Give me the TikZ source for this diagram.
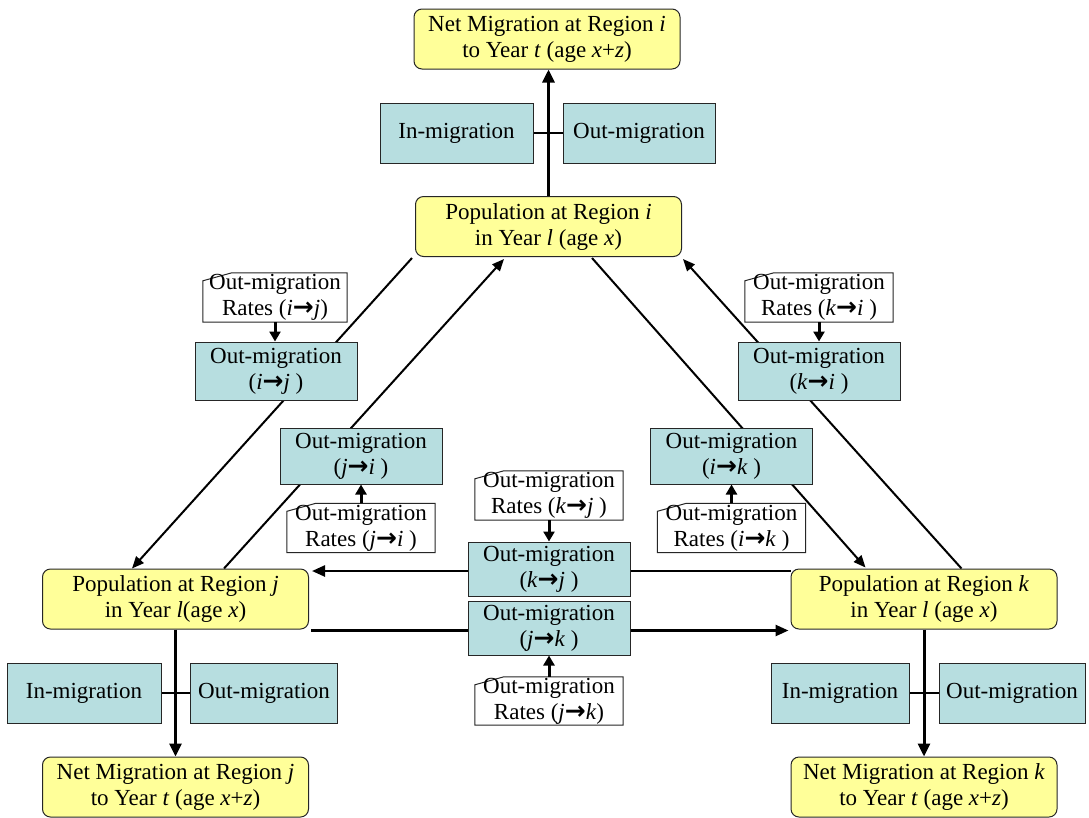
\documentclass[tikz,border=0pt]{standalone}
\usepackage{fontspec}
\setmainfont{Liberation Serif}
\newfontfamily\arrowfont{DejaVu Sans}
\usetikzlibrary{arrows.meta,calc,backgrounds}
\definecolor{popyel}{HTML}{FFFF99}
\definecolor{migteal}{HTML}{B7DEE0}
\newcommand{\rarr}{{\arrowfont\bfseries\fontsize{25}{26}\selectfont →}}
\newcommand{\mv}[1]{\textit{#1}}
\begin{document}
\begin{tikzpicture}[x=1pt,y=-1pt,
  every node/.style={font=\fontsize{23}{26}\selectfont, align=center, inner sep=0pt},
  popbox/.style={draw=black!85, line width=1pt, fill=popyel, rounded corners=8pt, minimum width=266pt, minimum height=60pt},
  migbox/.style={draw=black!85, line width=1pt, fill=migteal, minimum height=60pt},
  flowbox/.style={draw=black!85, line width=1pt, fill=migteal, minimum width=162pt, minimum height=56pt},
  ratebox/.style={minimum width=148pt, minimum height=49pt},
  rateline/.style={draw=black!85, line width=1pt, fill=white},
  conn/.style={line width=2pt, -{Triangle[length=12pt,width=10pt]}},
  vconn/.style={line width=3pt, -{Triangle[length=13pt,width=12pt]}},
  hconn/.style={line width=2.5pt, -{Triangle[length=13pt,width=11pt]}},
  rconn/.style={line width=3pt, -{Triangle[length=10pt,width=11pt]}},
  cross/.style={line width=1.5pt}
]
\begin{scope}[on background layer]
\path[use as bounding box, fill=white] (0,0) rectangle (1089,815);
\end{scope}

% main population / net boxes
\node[popbox] (neti) at (547,39) {Net Migration at Region \mv{i}\\to Year \mv{t} (age \mv{x}+\mv{z})};
\node[popbox] (popi) at (548.5,226.5) {Population at Region \mv{i}\\in Year \mv{l} (age \mv{x})};
\node[popbox] (popj) at (175.5,599) {Population at Region \mv{j}\\in Year \mv{l}(age \mv{x})};
\node[popbox] (popk) at (924,599) {Population at Region \mv{k}\\in Year \mv{l} (age \mv{x})};
\node[popbox] (netj) at (175.5,787) {Net Migration at Region \mv{j}\\to Year \mv{t} (age \mv{x}+\mv{z})};
\node[popbox] (netk) at (924,787) {Net Migration at Region \mv{k}\\to Year \mv{t} (age \mv{x}+\mv{z})};

% in/out migration boxes
\node[migbox, minimum width=153pt] (ini) at (456.5,133) {In-migration};
\node[migbox, minimum width=152pt] (outi) at (639,133) {Out-migration};
\node[migbox, minimum width=154pt] (inj) at (84,693) {In-migration};
\node[migbox, minimum width=147pt] (outj) at (264,693) {Out-migration};
\node[migbox, minimum width=138pt] (ink) at (840,693) {In-migration};
\node[migbox, minimum width=146pt] (outk) at (1012,693) {Out-migration};

% flow boxes
\node[flowbox, minimum height=58pt] (oij) at (276,371) {Out-migration\\(\mv{i}\rarr\mv{j} )};
\node[flowbox, minimum height=58pt] (oki) at (819,371) {Out-migration\\(\mv{k}\rarr\mv{i} )};
\node[flowbox] (oji) at (361,456) {Out-migration\\(\mv{j}\rarr\mv{i} )};
\node[flowbox] (oik) at (731.5,456) {Out-migration\\(\mv{i}\rarr\mv{k} )};
\node[flowbox, minimum height=54pt] (okj) at (549,569) {Out-migration\\(\mv{k}\rarr\mv{j} )};
\node[flowbox, minimum height=54pt] (ojk) at (549,628) {Out-migration\\(\mv{j}\rarr\mv{k} )};

% rate boxes (text)
\node[ratebox, minimum width=144pt] (rij) at (275,297.5) {Out-migration\\Rates (\mv{i}\rarr\mv{j})};
\node[ratebox] (rki) at (819,297.5) {Out-migration\\Rates (\mv{k}\rarr\mv{i} )};
\node[ratebox] (rji) at (361,528) {Out-migration\\Rates (\mv{j}\rarr\mv{i} )};
\node[ratebox] (rik) at (731.5,528) {Out-migration\\Rates (\mv{i}\rarr\mv{k} )};
\node[ratebox] (rkj) at (549,495.5) {Out-migration\\Rates (\mv{k}\rarr\mv{j} )};
\node[ratebox, minimum height=48pt] (rjk) at (549,701) {Out-migration\\Rates (\mv{j}\rarr\mv{k})};

\begin{scope}[on background layer]
  % vertical net-migration arrows and in/out cross links
  \draw[vconn] (popi.north) -- (popi.north |- neti.south);
  \draw[vconn] (popj.south) -- (popj.south |- netj.north);
  \draw[vconn] (popk.south) -- (popk.south |- netk.north);
  \draw[cross] (ini.east) -- (outi.west);
  \draw[cross] (inj.east) -- (outj.west);
  \draw[cross] (ink.east) -- (outk.west);
  % diagonal flows
  \draw[conn] ($(popi.south west)+(-3,1)$) -- ($(popj.north west)+(90,0)$);
  \draw[conn] ($(popj.north west)+(182,0)$) -- ($(popi.south west)+(89,2)$);
  \draw[conn] ($(popi.south west)+(177,1)$) -- ($(popk.north west)+(75,-1)$);
  \draw[conn] ($(popk.north west)+(171,0)$) -- ($(popi.south east)+(1,2)$);
  % horizontal flows
  \draw[hconn] ($(popk.north west)+(0,2.5)$) -- ($(popj.north east)+(3,2.5)$);
  \draw[hconn] ($(popj.south east)+(2,1)$) -- ($(popk.south west)+(-2,1)$);
  % rate shapes
  \foreach \n in {rij,rki,rji,rik,rkj,rjk}{
    \draw[rateline] (\n.south west) -- ($(\n.north west)+(0,8)$) -- ($(\n.north west)+(29,0)$) -- (\n.north east) -- (\n.south east) -- cycle;
  }
\end{scope}

% rate arrows
\draw[rconn] (rij.south) -- (rij.south |- oij.north);
\draw[rconn] (rki.south) -- (rki.south |- oki.north);
\draw[rconn] (rji.north) -- (rji.north |- oji.south);
\draw[rconn] (rik.north) -- (rik.north |- oik.south);
\draw[rconn] (rkj.south) -- (rkj.south |- okj.north);
\draw[rconn] (rjk.north) -- (rjk.north |- ojk.south);
\end{tikzpicture}
\end{document}
